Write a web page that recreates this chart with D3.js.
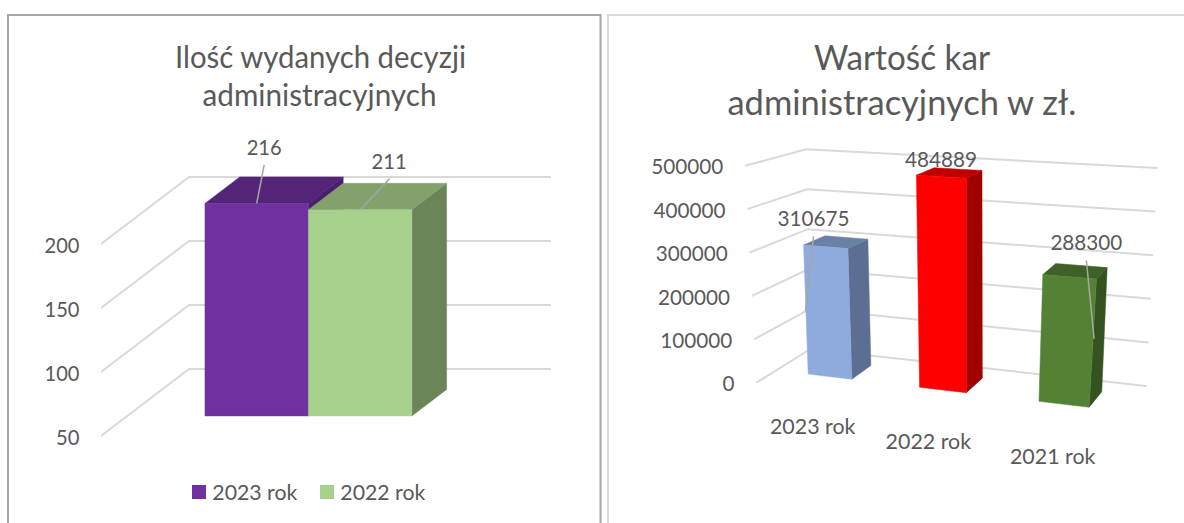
<!DOCTYPE html>
<html><head><meta charset="utf-8">
<script src="https://cdn.jsdelivr.net/npm/d3@7/dist/d3.min.js"></script>
<style>html,body{margin:0;padding:0;background:#fff}svg{display:block}text{font-family:Lato,"Noto Sans",sans-serif;fill:#595959}</style>
</head><body><svg id="c" width="1184" height="523"></svg>
<script>
// ---- data ----
const leftSeries = ["2023 rok", "2022 rok"];
const leftValues = [216, 211];
const leftTicks = [50, 100, 150, 200];
const leftTitle = ["Ilość wydanych decyzji", "administracyjnych"];

const rightCategories = ["2023 rok", "2022 rok", "2021 rok"];
const rightValues = [310675, 484889, 288300];
const rightTicks = [0, 100000, 200000, 300000, 400000, 500000];
const rightTitle = ["Wartość kar", "administracyjnych w zł."];

// ---- styles ----
const leftColors = [{front:"#7030a0",top:"#542478",side:"#4a1f70"},{front:"#a9d18e",top:"#83a16d",side:"#6b8559"}];
const rightColors = [{front:"#8faadc",top:"#6b80a5",side:"#5c6f92"},{front:"#ff0000",top:"#c00000",side:"#a00000"},{front:"#548235",top:"#3e6128",side:"#355321"}];
const GRID = "#d9d9d9", LEADER = "#a6a6a6";
const FS = 22;

const svg = d3.select("#c");
function label(x, y, s, size, width, anchor) {
  const left = anchor === "end" ? x - width : anchor === "middle" ? x - width / 2 : x;
  svg.append("text").attr("x", left).attr("y", y).attr("font-size", size)
     .attr("textLength", width).attr("lengthAdjust", "spacingAndGlyphs").text(s);
}
const poly = (pts, fill) => svg.append("polygon").attr("points", pts.map(p => p.join(",")).join(" ")).attr("fill", fill).attr("stroke", fill).attr("stroke-width", 0.5);
const segment = (pts, color, w) => svg.append("path").attr("d", d3.line()(pts)).attr("fill", "none").attr("stroke", color).attr("stroke-width", w);

// panel frames
segment([[8,523],[8,15],[600.5,15],[600.5,523]], "#a6a6a6", 2);
segment([[608,523],[608,15],[1184,15]], "#d9d9d9", 2);

// ---- left chart: oblique box ----
{
  const x = d3.scaleBand().domain(leftSeries).range([101, 463]).paddingOuter(0.75).paddingInner(0);
  const y = d3.scaleLinear().domain([50, 200]).range([436, 244]);
  const dx = d3.scaleLinear().domain([0, 1]).range([0, 88]);
  const dy = d3.scaleLinear().domain([0, 1]).range([0, -67]);
  const P = (px, d, v) => [px + dx(d), y(v) + dy(d)];
  const axisRight = 463;
  leftTicks.forEach(t => {
    segment([P(101, 0, t), P(101, 1, t), P(axisRight, 1, t)], GRID, 2);
    const e = P(101, 0, t);
    label(e[0] - 21.5, e[1] + 8.5, String(t), FS, t < 100 ? 23.5 : 35, "end");
  });
  const d0 = 0.3, d1 = 0.695;
  leftSeries.forEach((s, i) => {
    const a = x(s), b = a + x.bandwidth(), v = leftValues[i], c = leftColors[i];
    poly([P(b, d0, 50), P(b, d1, 50), P(b, d1, v), P(b, d0, v)], c.side);
    poly([P(a, d0, v), P(b, d0, v), P(b, d1, v), P(a, d1, v)], c.top);
    poly([P(a, d0, 50), P(b, d0, 50), P(b, d0, v), P(a, d0, v)], c.front);
  });
  const lab = [{dx: 7.5, dy: -56.5, l: [[7.5, -38.5], [0, 0]]}, {dx: 29, dy: -48.5, l: [[29.5, -31], [0, 0]]}];
  leftSeries.forEach((s, i) => {
    const p = P(x(s) + x.bandwidth() / 2, d0, leftValues[i]), o = lab[i];
    segment(o.l.map(q => [p[0] + q[0], p[1] + q[1]]), LEADER, 1.5);
    label(p[0] + o.dx, p[1] + o.dy + 8, String(leftValues[i]), FS, 35, "middle");
  });
  leftSeries.forEach((s, i) => {
    const lx = [192, 320][i];
    svg.append("rect").attr("x", lx).attr("y", 485).attr("width", 14).attr("height", 14).attr("fill", leftColors[i].front);
    label(lx + 20.3, 499.5, s, FS, 85, "start");
  });
  label(320.5, 67.5, leftTitle[0], 31, 291, "middle");
  label(319.5, 106, leftTitle[1], 31, 234, "middle");
}

// ---- right chart: perspective box ----
{
  function homography(q) { // q: (0,0),(1,0),(1,1),(0,1)
    const [[x0,y0],[x1,y1],[x2,y2],[x3,y3]] = q;
    const dx1=x1-x2, dy1=y1-y2, dx2=x3-x2, dy2=y3-y2, sx=x0-x1+x2-x3, sy=y0-y1+y2-y3;
    const den=dx1*dy2-dx2*dy1, g=(sx*dy2-dx2*sy)/den, h=(dx1*sy-sx*dy1)/den;
    const a=x1-x0+g*x1, b=x3-x0+h*x3, d=y1-y0+g*y1, e=y3-y0+h*y3;
    return (u,v)=>{const w=g*u+h*v+1;return [(a*u+b*v+x0)/w,(d*u+e*v+y0)/w];};
  }
  const floor = homography([[756.4,382.7],[1117,427],[1146.4,386],[810.4,349]]);
  const ceil  = homography([[745.2,165.7],[1139,190.5],[1157.5,168],[806,149.3]]);
  const vs = d3.scaleLinear().domain([0, 500000]).range([0, 1]);
  const barVs = d3.scaleLinear().domain([0, 300000, 500000]).range([0, 0.585, 1]);
  const mix = d3.interpolateNumber;
  const at = (u, d, t) => { const f = floor(u, d), c = ceil(u, d);
    return [mix(f[0], c[0])(t), mix(f[1], c[1])(t)]; };
  const P = (u, d, val) => at(u, d, vs(val));
  const B = (u, d, val) => at(u, d, barVs(val));

  rightTicks.forEach(t => {
    segment([P(0,0,t), P(0,1,t), P(1,1,t)], GRID, 2);
    const e = P(0,0,t);
    label(e[0] - 22, e[1] + 8.7, String(t), FS, t === 0 ? 12 : 72, "end");
  });
  const x = d3.scaleBand().domain(rightCategories).range([0, 1]).paddingInner(0.6).paddingOuter(0.3);
  const d0 = 0.35, d1 = 0.74;
  rightCategories.forEach((cat, i) => {
    const a = x(cat), b = a + x.bandwidth(), v = rightValues[i], c = rightColors[i];
    poly([B(b,d0,0), B(b,d1,0), B(b,d1,v), B(b,d0,v)], c.side);
    poly([B(a,d0,v), B(b,d0,v), B(b,d1,v), B(a,d1,v)], c.top);
    poly([B(a,d0,0), B(b,d0,0), B(b,d0,v), B(a,d0,v)], c.front);
  });
  const lab = [{dx:-12,dy:-29,l:[[-12,-10.4],[-20,64]]},{dx:0,dy:-18,l:null},{dx:17,dy:-35,l:[[17,-16.4],[24.7,62]]}];
  rightCategories.forEach((cat, i) => {
    const m = x(cat) + x.bandwidth()/2, p = B(m, d0, rightValues[i]), o = lab[i];
    if (o.l) segment(o.l.map(q => [p[0]+q[0], p[1]+q[1]]), LEADER, 1.5);
    label(p[0]+o.dx, p[1]+o.dy+8, String(rightValues[i]), FS, 72, "middle");
    const f = P(m, 0, 0);
    label(f[0]+1.5, f[1]+45, cat, FS, 85.5, "middle");
  });
  label(902, 69.5, rightTitle[0], 34, 176, "middle");
  label(902, 115, rightTitle[1], 34, 349, "middle");
}
</script></body></html>
